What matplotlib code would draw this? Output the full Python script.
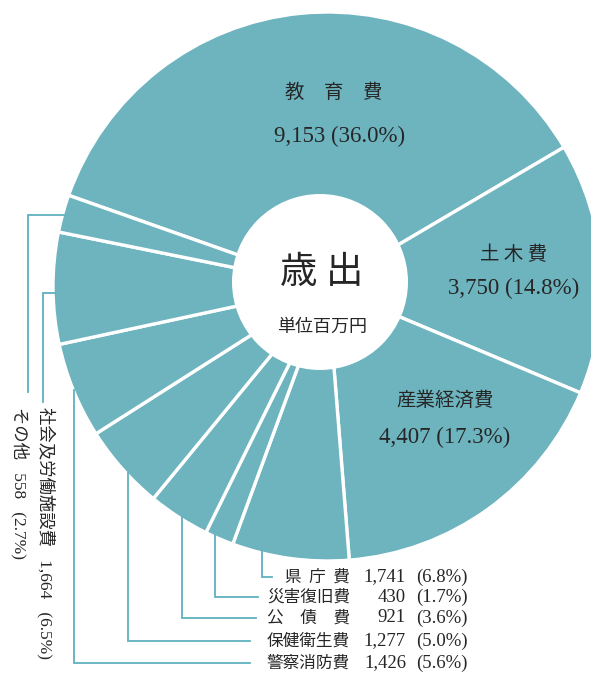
import numpy as np
import matplotlib.pyplot as plt
from matplotlib.patches import Circle

# expenditure breakdown (unit: million yen)
categories = ['教育費', '土木費', '産業経済費', '県庁費', '災害復旧費', '公債費',
              '保健衛生費', '警察消防費', '社会及労働施設費', 'その他']
amounts = [9153, 3750, 4407, 1741, 430, 921, 1277, 1426, 1664, 558]
shares = [36.0, 14.8, 17.3, 6.8, 1.7, 3.6, 5.0, 5.6, 6.5, 2.7]

W, H = 591, 675
TEAL = '#6db4bf'
LINE = '#5fb0bf'
INK = '#262626'
CJK = ['Noto Sans CJK JP', 'DejaVu Sans']
SERIF = ['Liberation Serif', 'Noto Sans CJK JP']


def Y(y):
    # image row -> axes y (axes runs bottom-up)
    return H - y


fig = plt.figure(figsize=(W / 100, H / 100), dpi=100)
ax = fig.add_axes([0, 0, 1, 1])

cx, cy_img, R = 327.5, 286.5, 274.5
ax.pie(amounts, startangle=160.6, counterclock=False, center=(cx, Y(cy_img)),
       radius=R, colors=[TEAL] * len(amounts), frame=True,
       wedgeprops=dict(edgecolor='white', linewidth=2.4))
ax.add_patch(Circle((320, Y(282)), 88, facecolor='white', edgecolor='none', zorder=3))
ax.set_xlim(0, W)
ax.set_ylim(0, H)
ax.axis('off')

# centre title
ax.text(322, Y(272), '歳 出', family=CJK, fontsize=27, color=INK,
        ha='center', va='center', zorder=4)
ax.text(322, Y(327), '単位百万円', family=CJK, fontsize=13, color=INK,
        ha='center', va='center', zorder=4)

# labels inside the three big wedges
big = [(0, '教　育　費', 334, 92, 136),
       (1, '土 木 費', 514, 255, 288),
       (2, '産業経済費', 445, 400, 437)]
for i, name, x, y1, y2 in big:
    ax.text(x, Y(y1), name, family=CJK, fontsize=14, color=INK,
            ha='center', va='center')
    ax.text(x + 6 if i == 0 else x, Y(y2), f'{amounts[i]:,} ({shares[i]}%)',
            family=SERIF, fontsize=16.5, color=INK, ha='center', va='center')


def edge_y(x):
    # image row where the outer rim crosses column x (lower half)
    return cy_img + np.sqrt(R ** 2 - (x - cx) ** 2)


def edge_x(y):
    # image column of the outer rim on the left side at row y
    return cx - np.sqrt(R ** 2 - (y - cy_img) ** 2)


# bottom legend with elbow leaders
bottom_idx = [3, 4, 5, 6, 7]
bottom_names = ['県  庁  費', '災害復旧費', '公　債　費', '保健衛生費', '警察消防費']
row_y = [577, 597, 618, 641, 663]
lead_x = [262, 215, 182, 128, 74]
lead_end = [272, 258, 256, 250, 250]
for i, name, ry, lx, le in zip(bottom_idx, bottom_names, row_y, lead_x, lead_end):
    top = edge_y(lx) - 2
    ax.plot([lx, lx, le], [Y(top), Y(ry), Y(ry)], color=LINE, lw=1.3,
            solid_joinstyle='miter', zorder=1)
    ax.text(350, Y(ry), name, family=CJK, fontsize=12, color=INK,
            ha='right', va='center')
    ax.text(406, Y(ry), f'{amounts[i]:,}', family=SERIF, fontsize=13.5,
            color=INK, ha='right', va='center')
    ax.text(416, Y(ry), f'({shares[i]}%)', family=SERIF, fontsize=13.5,
            color=INK, ha='left', va='center')

# left side: vertical labels
left_idx = [8, 9]
left_names = ['社会及労働施設費', 'その他']
left_row = [293, 215]
left_col = [43, 28]
left_bottom = [402, 392]
text_col = [46, 20]
for i, name, ly, lc, lb, tc in zip(left_idx, left_names, left_row, left_col,
                                   left_bottom, text_col):
    ax.plot([edge_x(ly) + 2, lc, lc], [Y(ly), Y(ly), Y(lb)], color=LINE, lw=1.3,
            solid_joinstyle='miter', zorder=1)
    ax.text(tc, Y(407), f'{name}   {amounts[i]:,}   ({shares[i]}%)', family=SERIF,
            fontsize=12.5, color=INK, rotation=-90, ha='center', va='top')

fig.savefig('out.png', dpi=100, facecolor='white')
